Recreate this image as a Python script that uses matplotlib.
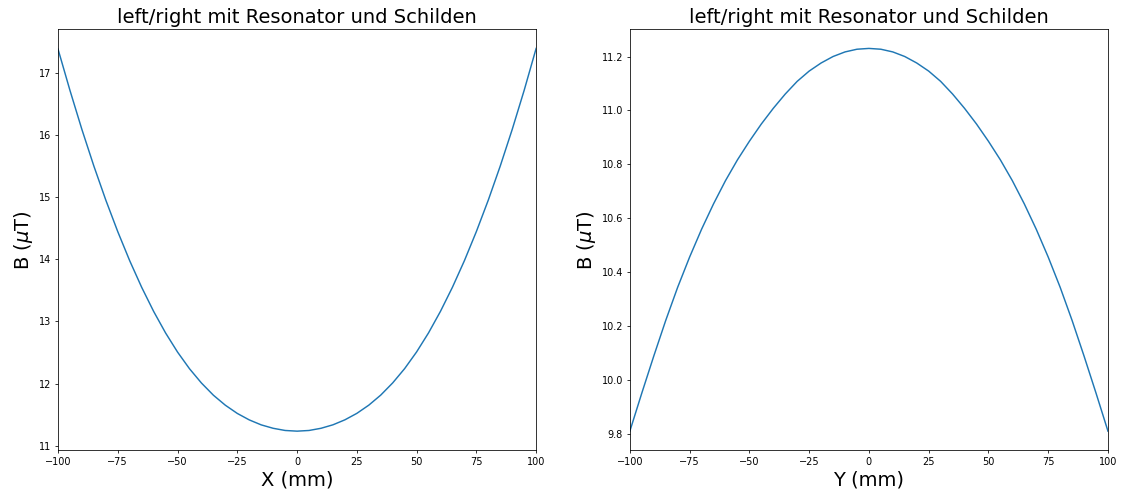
import matplotlib
matplotlib.use("Agg")
import matplotlib.pyplot as plt

# Position (mm)
pos = [-100, -95, -90, -85, -80, -75, -70, -65, -60, -55, -50, -45, -40, -35, -30,
       -25, -20, -15, -10, -5, 0, 5, 10, 15, 20, 25, 30, 35, 40, 45, 50, 55, 60, 65,
       70, 75, 80, 85, 90, 95, 100]
# B entlang X (uT)
b_x = [17.380, 16.715, 16.086, 15.498, 14.950, 14.443, 13.975, 13.548, 13.161,
       12.814, 12.507, 12.239, 12.009, 11.813, 11.652, 11.520, 11.416, 11.336, 11.281,
       11.246, 11.235, 11.246, 11.281, 11.337, 11.417, 11.521, 11.653, 11.815, 12.011,
       12.241, 12.509, 12.816, 13.163, 13.550, 13.977, 14.445, 14.952, 15.500, 16.088,
       16.717, 17.390]
# B entlang Y (uT)
b_y = [9.812, 9.953, 10.090, 10.222, 10.345, 10.457, 10.560, 10.654, 10.740, 10.817,
       10.886, 10.950, 11.008, 11.061, 11.108, 11.146, 11.176, 11.200, 11.217, 11.227,
       11.230, 11.227, 11.217, 11.200, 11.176, 11.146, 11.108, 11.061, 11.008, 10.950,
       10.886, 10.817, 10.740, 10.654, 10.560, 10.457, 10.345, 10.222, 10.090, 9.953,
       9.812]

titel = "left/right mit Resonator und Schilden"

fig, (ax1, ax2) = plt.subplots(1, 2, figsize=(1122 / 70, 498 / 70), dpi=70)
fig.subplots_adjust(left=0.0517, right=0.9875, bottom=0.0958, top=0.9412, wspace=0.196)

ax1.plot(pos, b_x)
ax1.set_xlim(-100, 100)
ax1.set_title(titel, fontsize=20)
ax1.set_xlabel("X (mm)", fontsize=20)
ax1.set_ylabel(r"B ($\mu$T)", fontsize=20)

ax2.plot(pos, b_y)
ax2.set_xlim(-100, 100)
ax2.set_title(titel, fontsize=20)
ax2.set_xlabel("Y (mm)", fontsize=20)
ax2.set_ylabel(r"B ($\mu$T)", fontsize=20)

fig.savefig("out.png", dpi=70)
